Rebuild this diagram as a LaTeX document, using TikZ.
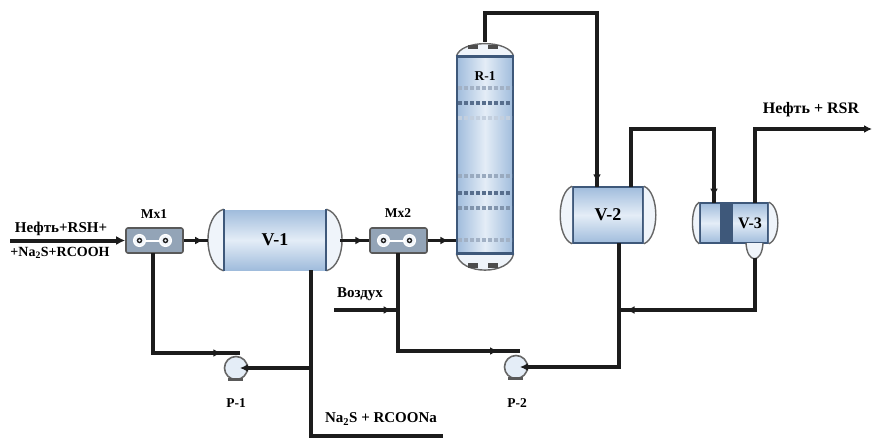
\documentclass[tikz,border=0pt]{standalone}
\usepackage{fontspec}
\setmainfont{Liberation Serif}
\usetikzlibrary{arrows.meta,decorations.markings}
\definecolor{shellblue}{RGB}{160,188,220}
\definecolor{shellpale}{RGB}{228,237,247}
\definecolor{seamblue}{RGB}{62,88,122}
\definecolor{pipegray}{RGB}{28,28,28}
\tikzset{
  vessel/.style={draw=seamblue,line width=1.6pt,top color=shellblue,bottom color=shellblue,middle color=shellpale,inner sep=0pt,font=\bfseries\fontsize{18}{18}\selectfont},
  column/.style={draw=seamblue,line width=1.2pt,left color=shellblue,right color=shellblue,middle color=shellpale,inner sep=0pt},
  capline/.style={draw=gray!80!black,line width=1.4pt,fill=shellpale!60!white},
  mixer/.style={draw=gray!70!black,line width=1.6pt,rounded corners=2pt,fill=shellblue!60!gray,minimum width=57pt,minimum height=25pt,inner sep=0pt},
  pump/.style={circle,draw=gray!80!black,line width=1.6pt,fill=shellpale,minimum size=23pt,inner sep=0pt},
  pipe/.style={draw=pipegray,line width=3.2pt},
  flow/.style={postaction={decorate,decoration={markings,mark=at position #1 with {\arrow{Latex[length=8pt,width=8pt]}}}}},
  tag/.style={font=\bfseries\fontsize{13.5}{14}\selectfont,inner sep=0pt},
  stream/.style={font=\bfseries\fontsize{15}{16}\selectfont,inner sep=0pt}
}
\begin{document}
\begin{tikzpicture}[x=1pt,y=-1pt]
\useasboundingbox (0,0) rectangle (872,439);
% vessels
\node[column,minimum width=56pt,minimum height=196pt] (R1) at (485,155) {};
\node[vessel,draw=none,minimum width=101pt,minimum height=60pt] (V1) at (275,240) {V-1};
\node[vessel,minimum width=70pt,minimum height=56pt] (V2) at (608,215) {V-2};
\node[vessel,minimum width=68pt,minimum height=40pt] (V3) at (734,223) {};
\draw[capline] (V1.north west) .. controls +(-21,6) and +(-21,-6) .. (V1.south west);
\draw[capline] (V1.north east) .. controls +(21,6) and +(21,-6) .. (V1.south east);
\draw[seamblue,line width=2pt] (V1.north west) -- (V1.south west);
\draw[seamblue,line width=2pt] (V1.north east) -- (V1.south east);
\draw[capline] (V2.north west) .. controls +(-16,6) and +(-16,-6) .. (V2.south west);
\draw[capline] (V2.north east) .. controls +(16,6) and +(16,-6) .. (V2.south east);
\draw[capline] (V3.north west) .. controls +(-9,5) and +(-9,-5) .. (V3.south west);
\draw[capline] (V3.north east) .. controls +(12,5) and +(12,-5) .. (V3.south east);
\draw[capline] (R1.north west) .. controls +(4,-17) and +(-4,-17) .. (R1.north east);
\draw[capline] (R1.south west) .. controls +(4,22) and +(-4,22) .. (R1.south east);
\fill[seamblue] (720,203) rectangle (733,243);
\node[font=\bfseries\fontsize{16}{16}\selectfont,inner sep=0pt] (V3t) at (750,223) {V-3};
\draw[capline] (746,243) .. controls (747,264) and (762,264) .. (763,243);
\draw[seamblue,line width=3.4pt] (R1.north west) -- (R1.north east);
\draw[seamblue,line width=3.4pt] (R1.south west) -- (R1.south east);
\foreach \y/\o in {88/40,103/85,118/20,176/45,193/85,208/60,240/40}
  \draw[seamblue!\o!shellpale,line width=4pt,dash pattern=on 4pt off 2pt] (458,\y) -- (512,\y);
\foreach \x in {473,493} {
  \fill[gray!60!black] (\x-5,263) rectangle (\x+5,268);
  \fill[gray!60!black] (\x-5,45) rectangle (\x+5,49);
}
\node[tag] (R1t) at (485,76) {R-1};
% mixers
\node[mixer] (Mx1) at (154.5,240.5) {};
\node[mixer] (Mx2) at (398.5,240.5) {};
\foreach \m in {Mx1,Mx2} {
  \draw[white,line width=1pt,fill=shellpale!50!white] (\m.center) ++(-15,0) circle (6);
  \draw[white,line width=1pt,fill=shellpale!50!white] (\m.center) ++(11,0) circle (6);
  \draw[pipegray,line width=1.4pt] (\m.center) ++(-15,0) circle (2);
  \draw[pipegray,line width=1.4pt] (\m.center) ++(11,0) circle (2);
  \draw[white,line width=2pt] (\m.center) ++(-10,0) -- ++(16,0);
}
\node[tag] (Mx1t) at (154,214) {Mx1};
\node[tag] (Mx2t) at (398,213) {Mx2};
% pumps
\node[pump] (P1) at (236,368) {};
\node[pump] (P2) at (516,367) {};
\foreach \p in {P1,P2} {
  \fill[gray!70!black] (\p.south west) ++(1,1) rectangle ++(15,3.5);
}
\node[tag] (P1t) at (236,403) {P-1};
\node[tag] (P2t) at (517,403) {P-2};
% free ends and bends
\coordinate (feedin) at (10,240.5);
\coordinate (airin) at (334,310);
\coordinate (j1) at (311,368);
\coordinate (brineout) at (443,436);
\coordinate (top2) at (597,13);
\coordinate (topR) at (485,42);
\coordinate (j2) at (619,310);
\coordinate (j3) at (398,310);
\coordinate (bend1) at (311,436);
\coordinate (V1b) at (311,270);
\coordinate (V2b) at (619,243);
\coordinate (V2a) at (631,187);
\coordinate (V2i) at (597,187);
\coordinate (V3i) at (714,203);
\coordinate (V3a) at (755,203);
\coordinate (V3b) at (755,258);
\coordinate (over1) at (714,129);
\coordinate (over2) at (872,129);
\coordinate (Mx1b) at (153,253);
\coordinate (Mx2b) at (398,253);
\coordinate (P1a) at (240,353);
\coordinate (P2a) at (520,351);
\coordinate (V1l) at (208,240.5);
\coordinate (V1r) at (340,240.5);
% connectors
\draw[pipe,line width=4pt,-{Latex[length=9pt,width=9pt]}] (feedin) -- (Mx1.west);
\draw[pipe,line width=3.6pt,flow=0.8] (Mx1.east) -- (V1l);
\draw[pipe,line width=3.6pt,flow=0.8] (V1r) -- (Mx2.west);
\draw[pipe,line width=3.6pt,flow=0.72] (Mx2.east) -- (R1.west |- Mx2.east);
\draw[pipe,flow=0.985] (topR) |- (top2) -- (V2i);
\draw[pipe,flow=0.97] (V2a) |- (over1) -- (V3i);
\draw[pipe,-{Latex[length=8pt,width=8pt]}] (V3a) |- (over2);
\draw[pipe,flow=0.96] (V3b) |- (j2);
\draw[pipe] (V2b) |- (P2);
\draw[pipe,-{Latex[length=8pt,width=8pt]},shorten >=4pt] (j2 |- P2) -- (P2.center);
\draw[pipe] (V1b) -- (j1);
\draw[pipe] (j1) -- (bend1) -- (brineout);
\draw[pipe,-{Latex[length=8pt,width=8pt]},shorten >=4pt] (j1) -- (P1.center);
\draw[pipe,flow=0.9] (Mx1b) |- (P1a);
\draw[pipe,flow=0.9] (Mx2b) |- (P2a);
\draw[pipe,flow=0.9] (airin) -- (j3);
% stream labels
\node[stream] (feed1) at (61,229) {Нефть+RSH+};
\node[stream,font=\bfseries\fontsize{14}{14}\selectfont] (feed2) at (60,253) {+Na\textsubscript{2}S+RCOOH};
\node[stream] (air) at (360,294) {Воздух};
\node[stream] (brine) at (381,419) {Na\textsubscript{2}S + RCOONa};
\node[stream,font=\bfseries\fontsize{16}{16}\selectfont] (prod) at (811,110) {Нефть + RSR};
\end{tikzpicture}
\end{document}
